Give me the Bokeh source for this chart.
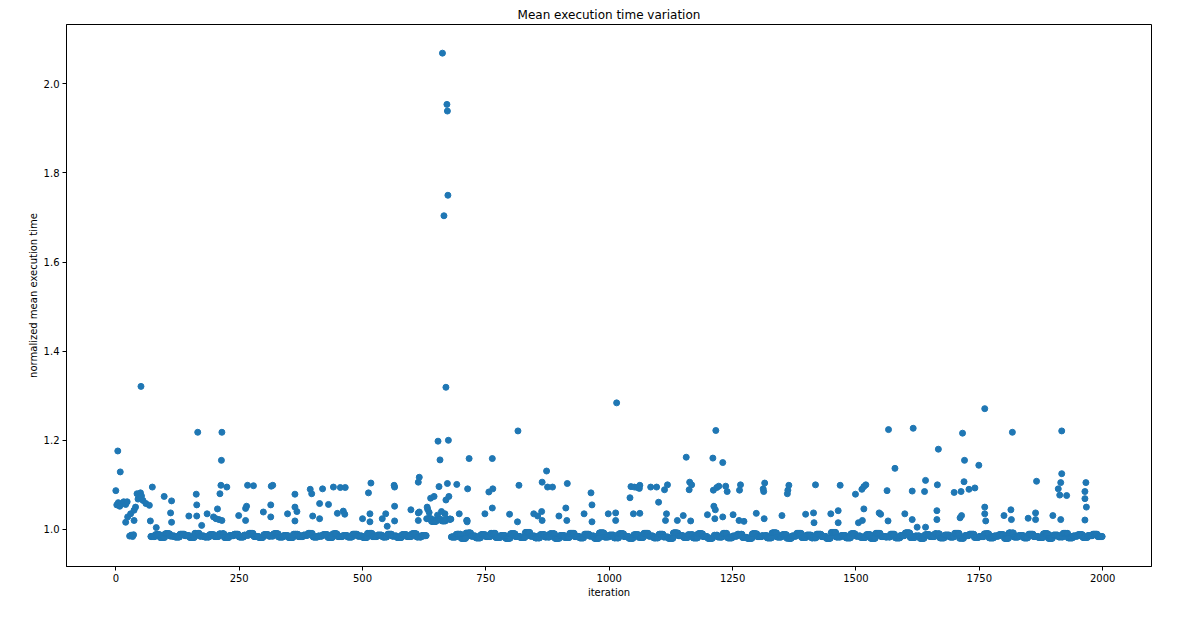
import numpy as np
from bokeh.plotting import figure
from bokeh.models import ColumnDataSource, Range1d, FixedTicker, PrintfTickFormatter
from bokeh.embed import file_html
from bokeh.resources import INLINE

# ---------------- data ----------------
outlier_iteration = [
    0, 2, 4, 5, 8, 9, 12, 16, 20, 23,
    20, 24, 30, 37, 40, 37, 28, 31, 34, 36,
    43, 45, 50, 51, 52, 55, 61, 68, 70, 74, 82, 98, 113, 111, 113,
    148, 163, 164, 164, 166, 174, 185, 198, 203, 206, 209, 211, 213, 214, 215, 215,
    225, 249, 263, 265, 263, 267, 279,
    299, 314, 314, 315, 318, 348, 363, 363, 367, 363, 394, 397, 399, 413, 413, 419,
    431, 441, 449, 455, 461, 464, 465, 500, 512, 515, 515, 517, 540, 547, 550,
    564, 565, 565, 565, 598, 613, 615, 613, 613, 615, 631, 632, 635, 638, 645,
    652, 653, 655, 657, 660, 662, 665, 667, 669, 669, 671, 672, 672, 673, 674, 675,
    691, 696, 711, 712, 712, 713, 716, 748, 756, 763, 763, 764, 798, 814, 815, 817,
    847, 855, 863, 864, 864, 873, 875, 885, 898, 912, 914, 915, 949, 963, 965, 965,
    998, 1013, 1013, 1015,
    1042, 1044, 1049, 1051, 1057, 1061, 1062, 1062, 1084, 1096, 1100, 1112, 1114,
    1116, 1118, 1138, 1150, 1156, 1162, 1163, 1165, 1167, 1199, 1210, 1211, 1212,
    1214, 1215, 1216, 1218, 1222, 1230, 1230, 1236, 1239, 1251, 1263, 1264, 1266,
    1273, 1298, 1312, 1313, 1314, 1315, 1350, 1361, 1362, 1364,
    1398, 1414, 1415, 1418, 1449, 1464, 1464, 1468, 1499, 1505, 1512, 1513, 1516,
    1516, 1520, 1547, 1550, 1563, 1565, 1566, 1579, 1599, 1614, 1614, 1616, 1624,
    1639, 1641, 1641, 1664, 1664, 1665, 1667, 1699, 1711, 1713, 1714, 1716, 1719,
    1720, 1729, 1741, 1749, 1761, 1761, 1761, 1763,
    1800, 1814, 1815, 1817, 1849, 1864, 1864, 1866, 1899, 1910, 1913, 1915, 1915,
    1917, 1917, 1927, 1964, 1964, 1964, 1966, 1967,
]
outlier_value = [
    1.087, 1.055, 1.176, 1.060, 1.052, 1.129, 1.058, 1.062, 1.056, 1.062,
    1.016, 1.028, 1.035, 1.043, 1.050, 1.020, 0.985, 0.987, 0.984, 0.988,
    1.080, 1.068, 1.082, 1.321, 1.075, 1.065, 1.058, 1.054, 1.019, 1.095, 1.004, 1.074, 1.064, 1.037, 1.016,
    1.030, 1.079, 1.055, 1.030, 1.218, 1.009, 1.035, 1.028, 1.024, 1.046, 1.022, 1.080, 1.099, 1.155, 1.218, 1.020,
    1.095, 1.031, 1.047, 1.052, 1.020, 1.099, 1.098,
    1.039, 1.055, 1.028, 1.097, 1.099, 1.035, 1.079, 1.050, 1.040, 1.019, 1.090, 1.080, 1.030, 1.058, 1.024, 1.091,
    1.056, 1.095, 1.036, 1.094, 1.041, 1.034, 1.094, 1.024, 1.082, 1.035, 1.017, 1.104, 1.024, 1.035, 1.007,
    1.099, 1.095, 1.052, 1.019, 1.044, 1.106, 1.117, 1.020, 1.037, 1.039, 1.050, 1.045, 1.038, 1.070, 1.074,
    1.032, 1.198, 1.096, 1.156, 1.040, 2.069, 1.704, 1.035, 1.319, 1.066, 1.954, 1.939, 1.103, 1.750, 1.200, 1.074,
    1.101, 1.035, 1.020, 1.020, 1.017, 1.091, 1.159, 1.035, 1.084, 1.159, 1.048, 1.091, 1.034, 1.017, 1.221, 1.099,
    1.035, 1.030, 1.040, 1.020, 1.106, 1.131, 1.095, 1.095, 1.030, 1.048, 1.020, 1.103, 1.035, 1.082, 1.055, 1.017,
    1.035, 1.037, 1.020, 1.284,
    1.071, 1.096, 1.035, 1.095, 1.094, 1.092, 1.099, 1.036, 1.095, 1.095, 1.061, 1.089, 1.020,
    1.035, 1.100, 1.020, 1.031, 1.162, 1.089, 1.106, 1.019, 1.100, 1.033, 1.160, 1.088, 1.052,
    1.024, 1.044, 1.222, 1.094, 1.097, 1.150, 1.028, 1.097, 1.085, 1.033, 1.020, 1.088, 1.100,
    1.018, 1.036, 1.091, 1.085, 1.024, 1.104, 1.031, 1.080, 1.088, 1.099,
    1.034, 1.037, 1.015, 1.100, 1.035, 1.042, 1.015, 1.099, 1.079, 1.015, 1.090, 1.020, 1.046,
    1.096, 1.100, 1.037, 1.034, 1.087, 1.019, 1.224, 1.137, 1.035, 1.086, 1.022, 1.227, 1.005,
    1.085, 1.110, 1.005, 1.042, 1.022, 1.100, 1.180, 1.083, 1.026, 1.085, 1.031, 1.216, 1.107,
    1.155, 1.090, 1.093, 1.144, 1.271, 1.050, 1.035, 1.019,
    1.031, 1.044, 1.022, 1.218, 1.025, 1.037, 1.022, 1.108, 1.031, 1.091, 1.077, 1.105, 1.022,
    1.221, 1.125, 1.076, 1.085, 1.069, 1.021, 1.105, 1.050,
]

# level of the dense band, one estimate per block of 10 iterations (nan = no band)
nan = float("nan")
baseline_block_level = [
    nan, nan, nan, nan, nan, nan, nan,
    0.984, 0.988, 0.982, 0.990, 0.985, 0.983, 0.989, 0.986, 0.982, 0.991,
    0.985, 0.983, 0.988, 0.984, 0.990, 0.982, 0.986, 0.989, 0.983, 0.987,
    0.991, 0.984, 0.982, 0.988, 0.985, 0.990, 0.983, 0.986, 0.982, 0.989,
    0.984, 0.987, 0.991, 0.983, 0.985, 0.988, 0.982, 0.990, 0.984, 0.986,
    0.983, 0.989, 0.985, 0.982, 0.991, 0.984, 0.987, 0.983, 0.989, 0.985,
    0.982, 0.988, 0.984, 0.990, 0.983, 0.986,
    1.024, 1.018, 1.022, 1.019, 1.023,
    0.983, 0.989, 0.980, 0.992, 0.985, 0.981, 0.988, 0.984, 0.991, 0.982,
    0.986, 0.980, 0.990, 0.984, 0.982, 0.993, 0.985, 0.981, 0.988, 0.983,
    0.990, 0.980, 0.986, 0.982, 0.991, 0.984, 0.981, 0.989, 0.985, 0.980,
    0.992, 0.983, 0.987, 0.981, 0.990, 0.984, 0.980, 0.988, 0.982, 0.991,
    0.985, 0.981, 0.989, 0.983, 0.980, 0.992, 0.986, 0.982, 0.988, 0.981,
    0.990, 0.984, 0.980, 0.987, 0.983, 0.991, 0.981, 0.985, 0.989, 0.982,
    0.980, 0.990, 0.984, 0.986, 0.981, 0.992, 0.983, 0.988, 0.980, 0.985,
    0.991, 0.982, 0.987, 0.981, 0.989, 0.984, 0.980, 0.993, 0.983, 0.986,
    0.981, 0.990, 0.985, 0.982, 0.988, 0.980, 0.991, 0.984, 0.983, 0.989,
    0.981, 0.986, 0.992, 0.982, 0.985, 0.980, 0.988, 0.984, 0.990, 0.981,
    0.987, 0.983, 0.991, 0.980, 0.986, 0.989, 0.982, 0.984, 0.990, 0.981,
    0.985, 0.988, 0.980, 0.992, 0.983, 0.986, 0.981, 0.989, 0.984, 0.982,
    0.990, 0.980, 0.987, 0.983, 0.991, 0.981, 0.985, 0.988, 0.982, 0.986,
    0.989, 0.984,
]
n_iterations = 2000
block_size = 10

x_ticks = [0, 250, 500, 750, 1000, 1250, 1500, 1750, 2000]
y_ticks = [1.0, 1.2, 1.4, 1.6, 1.8, 2.0]

title_text = "Mean execution time variation"
x_label = "iteration"
y_label = "normalized mean execution time"

# ---------------- assemble points ----------------
levels = np.array(baseline_block_level, dtype=float)
base_y = np.repeat(levels, block_size)[:n_iterations]
base_x = np.arange(len(base_y))
keep = ~np.isnan(base_y) & ~np.isin(base_x, outlier_iteration)
all_x = np.concatenate([base_x[keep], np.array(outlier_iteration, dtype=float)])
all_y = np.concatenate([base_y[keep], np.array(outlier_value, dtype=float)])
order = np.argsort(all_x, kind="stable")
source = ColumnDataSource(dict(iteration=all_x[order], value=all_y[order]))

# ---------------- figure ----------------
xmin, xmax = 0, n_iterations - 1
ymin, ymax = 0.972, 2.078
xpad = 0.05 * (xmax - xmin)
ypad = 0.05 * (ymax - ymin)

FONT = "DejaVu Sans"
p = figure(
    width=1184, height=602,
    output_backend="svg", toolbar_location=None,
    x_range=Range1d(xmin - xpad, xmax + xpad),
    y_range=Range1d(ymin - ypad, ymax + ypad),
    min_border_left=66, min_border_right=33,
    min_border_top=24, min_border_bottom=36,
)
p.title.text = title_text
p.title.align = "center"
p.title.text_font = FONT
p.title.text_font_size = "12px"
p.title.text_font_style = "normal"
p.title.text_color = "black"
p.title.standoff = 5

p.scatter("iteration", "value", source=source, size=6,
          fill_color="#1f77b4", line_color="#1f77b4", line_width=1)

p.grid.visible = False
p.outline_line_color = "black"
p.outline_line_width = 1
p.background_fill_color = "white"
p.border_fill_color = "white"

p.xaxis.ticker = FixedTicker(ticks=x_ticks)
p.yaxis.ticker = FixedTicker(ticks=y_ticks)
p.yaxis.formatter = PrintfTickFormatter(format="%.1f")
p.xaxis.axis_label = x_label
p.yaxis.axis_label = y_label
for ax in (p.xaxis, p.yaxis):
    ax.axis_line_color = "black"
    ax.axis_line_width = 1
    ax.major_tick_line_color = "black"
    ax.major_tick_out = 4
    ax.major_tick_in = 0
    ax.minor_tick_line_color = None
    ax.major_label_text_font = FONT
    ax.major_label_text_font_size = "10px"
    ax.major_label_text_color = "black"
    ax.axis_label_text_font = FONT
    ax.axis_label_text_font_size = "10px"
    ax.axis_label_text_font_style = "normal"
    ax.axis_label_text_color = "black"
    ax.major_label_standoff = 3
    ax.axis_label_standoff = 2

open("out.html", "w").write(file_html(p, INLINE))
